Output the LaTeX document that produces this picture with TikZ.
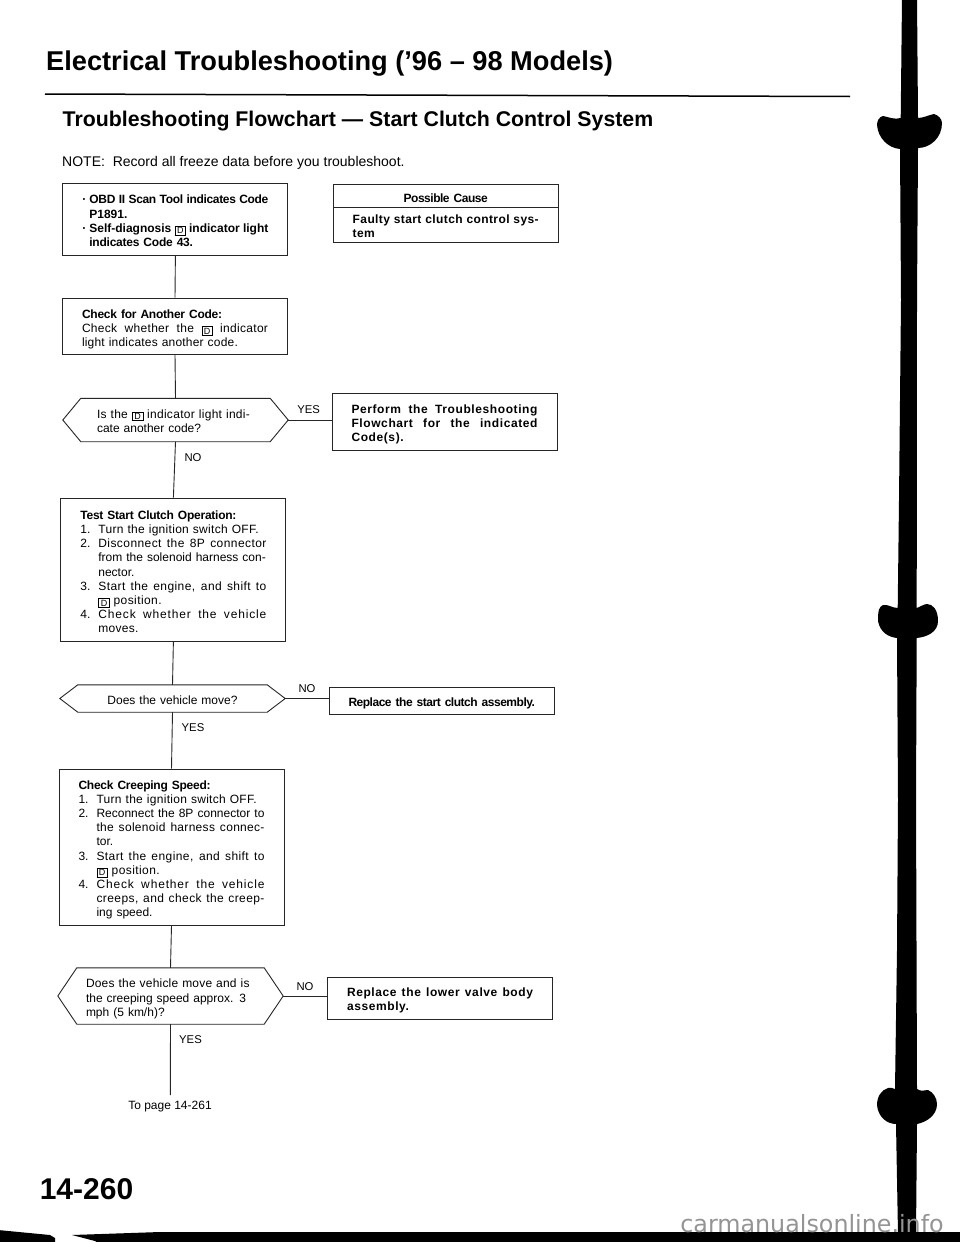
\documentclass[tikz,border=0pt]{standalone}
\usepackage{fontspec}
\setmainfont{Liberation Sans}
\newfontface\wideb[LetterSpace=5]{Liberation Sans Bold}
\newfontface\midb[LetterSpace=3.3]{Liberation Sans Bold}
\newfontface\tightb[LetterSpace=-4]{Liberation Sans Bold}
\newfontface\tighta[LetterSpace=-2.7]{Liberation Sans Bold}
\newfontface\tightc[LetterSpace=-2]{Liberation Sans Bold}
\newfontface\wider[LetterSpace=7]{Liberation Sans}
\newfontface\midr[LetterSpace=3.5]{Liberation Sans}
\newfontface\lowr[LetterSpace=2.5]{Liberation Sans}
\newfontface\slightr[LetterSpace=1.7]{Liberation Sans}
\newfontfamily\markfont{DejaVu Sans}
\newdimen\boxW
\boxW=186pt
\newcommand{\stretchy}{\spaceskip=.278em plus 2em minus .05em\relax\xspaceskip=\spaceskip}
\newcommand{\fl}[1]{\hbox to \boxW{\stretchy #1}\par}
\newcommand{\pl}[1]{\hbox to \boxW{#1\hfil}\par}
\newcommand{\cl}[1]{\hbox to \boxW{\hfil #1\hfil}\par}
\newcommand{\hl}[3]{\hbox to \boxW{\hbox to #1pt{#2\hfil}\stretchy #3}\par}
\newcommand{\hp}[3]{\hbox to \boxW{\hbox to #1pt{#2\hfil}#3\hfil}\par}
\newcommand{\Dbox}{\raisebox{-1.5pt}{\setlength\fboxsep{0.9pt}\setlength\fboxrule{0.6pt}\fbox{\fontseries{m}\fontsize{9}{9}\selectfont\makebox[8.2pt]{D}}}}
\newcommand{\hexa}[2]{\draw[flow] (#1.west) -- ([xshift=#2pt]#1.north west) -- ([xshift=-#2pt]#1.north east) -- (#1.east) -- ([xshift=-#2pt]#1.south east) -- ([xshift=#2pt]#1.south west) -- cycle;}
\tikzset{
  x=1pt,y=-1pt,
  flow/.style={line width=0.9pt,draw=black!85},
  body/.style={font=\fontsize{12}{14.2}\selectfont},
  dy/.style={execute at begin node={\vrule height \dimexpr 9.5pt+#1pt\relax width 0pt depth 0pt\relax}},
  flowbox/.style={flow,draw,rectangle,body,inner xsep=19.5pt,inner ysep=0pt,text width=186pt,minimum height=#1,anchor=center},
  decide/.style 2 args={rectangle,body,inner ysep=0pt,inner xsep={(225pt-#1)/2},text width=#1,minimum height=#2,anchor=center,execute at begin node={\boxW=#1\relax}},
  tag/.style={font=\fontsize{11.3}{13}\selectfont,inner sep=0pt,anchor=center}
}
\begin{document}
\begin{tikzpicture}
\useasboundingbox (0,0) rectangle (960,1242);
\fill[white] (0,0) rectangle (960,1242);
% heading
\node[anchor=base west,inner sep=0pt,font=\fontsize{27.2}{30}\selectfont\bfseries] (title) at (46,70) {Electrical Troubleshooting ('96 -- 98 Models)};
\draw[line width=1.5pt] (45,94) coordinate (r1) -- (850,96.5) coordinate (r2);
\node[anchor=base west,inner sep=0pt,font=\fontsize{21.3}{24}\selectfont\bfseries] (subtitle) at (62.5,126) {Troubleshooting Flowchart --- Start Clutch Control System};
\node[anchor=base west,inner sep=0pt,font=\fontsize{14}{15}\selectfont] (note) at (62,166) {NOTE:\ \ Record all freeze data before you troubleshoot.};
% left column
\node[flowbox=72pt,dy=3,font=\fontsize{12}{14.2}\selectfont\bfseries] (b1) at (175.4,219) {%
  \hl{7}{·}{{\tighta OBD II Scan Tool indicates Code}}\hp{7}{}{P1891.}\hl{7}{·}{Self-diagnosis \Dbox\ indicator light}\hp{7}{}{{\tightc indicates Code 43.}}};
\node[flowbox=56pt,dy=6] (b2) at (175,326) {%
  \pl{{\tightc Check for Another Code:}}\fl{{\lowr Check whether the \Dbox\ indicator}}\pl{{\slightr light indicates another code.}}};
\node[decide={157pt}{43pt},dy=1] (d1) at (175.5,420) {\pl{{\lowr Is the \Dbox\ indicator light indi-}}\pl{cate another code?}};
\node[flowbox=143pt,dy=4] (b3) at (173.4,569.5) {%
  \pl{{\tightc Test Start Clutch Operation:}}%
  \hp{18}{1.}{{\lowr Turn the ignition switch OFF.}}%
  \hl{18}{2.}{{\midr Disconnect the 8P connector}}%
  \hp{18}{}{from the solenoid harness con-}%
  \hp{18}{}{nector.}%
  \hl{18}{3.}{{\midr Start the engine, and shift to}}%
  \hp{18}{}{{\midr \Dbox\ position.}}%
  \hl{18}{4.}{{\wider Check whether the vehicle}}%
  \hp{18}{}{{\lowr moves.}}};
\node[decide={186pt}{27pt},align=center,dy=2] (d2) at (172.5,698.5) {Does the vehicle move?};
\node[flowbox=156pt,dy=5] (b4) at (171.5,847) {%
  \pl{{\tightc Check Creeping Speed:}}%
  \hp{18}{1.}{{\lowr Turn the ignition switch OFF.}}%
  \hl{18}{2.}{Reconnect the 8P connector to}%
  \hl{18}{}{{\lowr the solenoid harness connec-}}%
  \hp{18}{}{tor.}%
  \hl{18}{3.}{{\midr Start the engine, and shift to}}%
  \hp{18}{}{{\midr \Dbox\ position.}}%
  \hl{18}{4.}{{\wider Check whether the vehicle}}%
  \hl{18}{}{{\midr creeps, and check the creep-}}%
  \hp{18}{}{ing speed.}};
\node[decide={169pt}{56pt},dy=5] (d3) at (170.5,996) {%
  \pl{{\slightr Does the vehicle move and is}}\pl{the creeping speed approx. 3}\pl{mph (5 km/h)?}};
\hexa{d1}{18}
\hexa{d2}{18}
\hexa{d3}{19}
\coordinate (e3) at (170.3,1095);
\node[font=\fontsize{12}{13}\selectfont,inner sep=0pt] (topage) at (170,1107) {To page 14-261};
% right column
\node[flowbox=23pt,dy=4] (pc1) at (445.7,195.5) {\cl{{\tightb Possible Cause}}};
\node[flowbox=35pt,dy=2] (pc2) at (445.7,224.5) {\fl{{\midb Faulty start clutch control sys-}}\pl{{\midb tem}}};
\node[flowbox=57pt,dy=5] (r1box) at (444.5,421.5) {\fl{{\wideb Perform the Troubleshooting}}\fl{{\wideb Flowchart for the indicated}}\pl{{\wideb Code(s).}}};
\node[flowbox=27pt,dy=5] (r2box) at (441.5,700.5) {\pl{{\tightb Replace the start clutch assembly.}}};
\node[flowbox=42pt,dy=4] (r3box) at (440,998) {\fl{{\wideb Replace the lower valve body}}\pl{{\wideb assembly.}}};
% connectors
\draw[flow] (b1.south) -- (b2.north);
\draw[flow] (b2.south) -- (d1.north);
\draw[flow] (d1.south) -- (b3.north);
\draw[flow] (b3.south) -- (d2.north);
\draw[flow] (d2.south) -- (b4.north);
\draw[flow] (b4.south) -- (d3.north);
\draw[flow] (d3.south) -- (e3);
\draw[flow] (d1.east) -- (d1.east -| r1box.west);
\draw[flow] (d2.east) -- (d2.east -| r2box.west);
\draw[flow] (d3.east) -- (d3.east -| r3box.west);
% labels
\node[tag] (y1) at (308.6,410) {YES};
\node[tag] (n1) at (193,458) {NO};
\node[tag] (n2) at (307,689) {NO};
\node[tag] (y2) at (193,728) {YES};
\node[tag] (n3) at (305,987) {NO};
\node[tag] (y3) at (190.5,1040) {YES};
\node[inner sep=0pt,font=\fontsize{30}{31}\selectfont\bfseries] (page) at (86.5,1189) {14-260};
% binding spine
\fill[black] (902,-2) -- (900.7,118)
  .. controls (895,120) and (888,117) .. (883,116)
  .. controls (879,117) and (877,121) .. (877,125)
  .. controls (878,138) and (888,148) .. (900,149)
  -- (901,300) -- (899,500) -- (897.7,608)
  .. controls (892,608) and (888,604) .. (883,605)
  .. controls (879,607) and (878,610) .. (878,621)
  .. controls (880,632) and (888,637) .. (897,638)
  -- (898,800) -- (897,950) -- (895,1089)
  .. controls (892,1088) and (890,1087) .. (888,1088)
  .. controls (881,1090) and (877,1097) .. (877,1105)
  .. controls (878,1117) and (887,1124) .. (896,1124)
  -- (898,1234) -- (916,1234) -- (917,1124)
  .. controls (927,1122) and (937,1115) .. (937,1104)
  .. controls (937,1098) and (933,1092) .. (928,1090)
  .. controls (925,1090) and (921,1092) .. (917,1089)
  -- (916,800) -- (916.7,638)
  .. controls (927,637) and (938,632) .. (938,621)
  .. controls (938,610) and (933,604) .. (927,604)
  .. controls (924,604) and (920,607) .. (916.7,608)
  -- (917,300) -- (918,148)
  .. controls (930,148) and (942,138) .. (942,123)
  .. controls (942,119) and (938,115) .. (934,114)
  .. controls (929,115) and (923,118) .. (918,118)
  -- (917,-2) -- cycle;
% bottom edge
\fill[black] (-2,1230) -- (50,1235) -- (55,1238) -- (55,1244) -- (-2,1244) -- cycle;
\fill[black] (72,1235) -- (160,1232) -- (962,1232) -- (962,1244) -- (100,1244) -- (95,1241) -- cycle;
\node[anchor=base,inner sep=0pt,text=black!42,font=\markfont\fontsize{23.8}{25}\selectfont] (mark) at (812,1232) {carmanualsonline.info};
\end{tikzpicture}
\end{document}
